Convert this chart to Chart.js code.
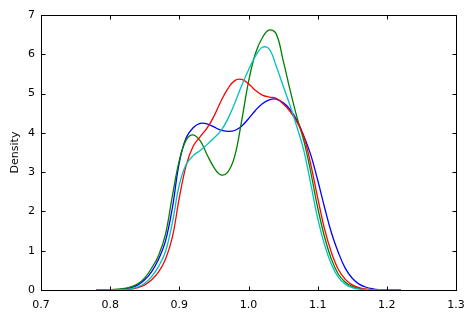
<!DOCTYPE html>
<html>
<head>
<meta charset="utf-8">
<script src="https://cdn.jsdelivr.net/npm/chart.js@4.4.1/dist/chart.umd.min.js"></script>
<style>
  html, body { margin: 0; padding: 0; background: #fff; }
  #wrap { width: 474px; height: 317px; }
</style>
</head>
<body>
<div id="wrap"><canvas id="densityChart" width="474" height="317"></canvas></div>
<script>
// density estimates (x step 0.01)
var xs = [0.78, 0.79, 0.80, 0.81, 0.82, 0.83, 0.84, 0.85, 0.86, 0.87,
          0.88, 0.89, 0.90, 0.91, 0.92, 0.93, 0.94, 0.95, 0.96, 0.97,
          0.98, 0.99, 1.00, 1.01, 1.02, 1.03, 1.04, 1.05, 1.06, 1.07,
          1.08, 1.09, 1.10, 1.11, 1.12, 1.13, 1.14, 1.15, 1.16, 1.17,
          1.18, 1.19, 1.20, 1.21, 1.22];

var blueVals = [0, 0, 0.005, 0.01, 0.025, 0.06, 0.13, 0.26, 0.47, 0.78,
                1.25, 2.1, 3.25, 3.88, 4.13, 4.24, 4.23, 4.15, 4.07, 4.04,
                4.06, 4.17, 4.36, 4.57, 4.74, 4.84, 4.86, 4.77, 4.6, 4.32,
                3.92, 3.44, 2.8, 2.1, 1.45, 0.95, 0.55, 0.3, 0.15, 0.07,
                0.03, 0.01, 0, 0, 0];

var greenVals = [0, 0.005, 0.01, 0.02, 0.04, 0.08, 0.16, 0.31, 0.56, 0.88,
                 1.42, 2.4, 3.3, 3.82, 3.95, 3.8, 3.45, 3.12, 2.93, 3.0,
                 3.4, 4.3, 5.3, 6.02, 6.42, 6.62, 6.52, 5.85, 5.1, 4.4,
                 3.8, 3.0, 2.1, 1.35, 0.78, 0.4, 0.2, 0.09, 0.04, 0.015,
                 0, 0, 0, 0, 0];

var redVals = [0, 0, 0, 0.005, 0.01, 0.02, 0.06, 0.13, 0.26, 0.46,
               0.78, 1.35, 2.35, 3.18, 3.66, 3.9, 4.12, 4.42, 4.8, 5.12,
               5.33, 5.36, 5.25, 5.08, 4.96, 4.91, 4.88, 4.74, 4.55, 4.28,
               3.9, 3.2, 2.35, 1.55, 0.95, 0.52, 0.27, 0.13, 0.06, 0.02,
               0.01, 0, 0, 0, 0];

var cyanVals = [0, 0, 0, 0.005, 0.01, 0.03, 0.08, 0.17, 0.34, 0.6,
                0.98, 1.72, 2.68, 3.2, 3.42, 3.55, 3.7, 3.87, 4.05, 4.35,
                4.75, 5.2, 5.6, 5.95, 6.18, 6.13, 5.7, 5.2, 4.7, 4.15,
                3.55, 2.7, 1.83, 1.15, 0.65, 0.32, 0.15, 0.06, 0.02, 0.01,
                0, 0, 0, 0, 0];

var xTicks = [0.7, 0.8, 0.9, 1.0, 1.1, 1.2, 1.3];
var yTicks = [0, 1, 2, 3, 4, 5, 6, 7];

function toPoints(vals) {
    return xs.map(function(x, i) { return { x: x, y: vals[i] }; });
}

function lineSet(vals, color, order) {
    return {
        data: toPoints(vals),
        borderColor: color,
        borderWidth: 1.3,
        pointRadius: 0,
        fill: false,
        tension: 0.4,
        order: order
    };
}

// matplotlib style: box round the plot, ticks pointing inwards on every side
var framePlugin = {
    id: 'frame',
    afterDatasetsDraw: function(chart) {
        var ctx = chart.ctx;
        var a = chart.chartArea;
        var sx = chart.scales.x;
        var sy = chart.scales.y;
        var l = Math.round(a.left) + 0.5, r = Math.round(a.right) + 0.5;
        var t = Math.round(a.top) + 0.5, b = Math.round(a.bottom) + 0.5;
        ctx.save();
        ctx.strokeStyle = '#000';
        ctx.lineWidth = 1;
        ctx.strokeRect(l, t, r - l, b - t);
        ctx.beginPath();
        sx.ticks.forEach(function(tk, i) {
            var px = Math.round(sx.getPixelForTick(i)) + 0.5;
            ctx.moveTo(px, b); ctx.lineTo(px, b - 4);
            ctx.moveTo(px, t); ctx.lineTo(px, t + 4);
        });
        sy.ticks.forEach(function(tk, i) {
            var py = Math.round(sy.getPixelForTick(i)) + 0.5;
            ctx.moveTo(l, py); ctx.lineTo(l + 4, py);
            ctx.moveTo(r, py); ctx.lineTo(r - 4, py);
        });
        ctx.stroke();
        ctx.restore();
    }
};

Chart.defaults.font.family = "'DejaVu Sans', sans-serif";
Chart.defaults.font.size = 11;
Chart.defaults.color = '#000';

new Chart(document.getElementById('densityChart'), {
    type: 'line',
    data: {
        datasets: [
            lineSet(blueVals, '#0000ff', 4),
            lineSet(greenVals, '#008000', 3),
            lineSet(redVals, '#ff0000', 2),
            lineSet(cyanVals, '#00bfbf', 1)
        ]
    },
    options: {
        responsive: false,
        animation: false,
        events: [],
        layout: { padding: { top: 15, right: 18, left: 0, bottom: 0 } },
        plugins: {
            legend: { display: false },
            tooltip: { enabled: false }
        },
        scales: {
            x: {
                type: 'linear',
                min: 0.7,
                max: 1.3,
                afterBuildTicks: function(s) {
                    s.ticks = xTicks.map(function(v) { return { value: v }; });
                },
                afterFit: function(s) { s.height = 27; },
                grid: { display: false, drawTicks: false },
                border: { display: false },
                ticks: {
                    padding: 9,
                    maxRotation: 0,
                    callback: function(v) { return v.toFixed(1); }
                }
            },
            y: {
                type: 'linear',
                min: 0,
                max: 7,
                afterBuildTicks: function(s) {
                    s.ticks = yTicks.map(function(v) { return { value: v }; });
                },
                afterFit: function(s) { s.width = 41; },
                grid: { display: false, drawTicks: false },
                border: { display: false },
                title: {
                    display: true,
                    text: 'Density',
                    padding: { top: 9, bottom: 0 }
                },
                ticks: {
                    padding: 6,
                    callback: function(v) { return String(v); }
                }
            }
        }
    },
    plugins: [framePlugin]
});
</script>
</body>
</html>
